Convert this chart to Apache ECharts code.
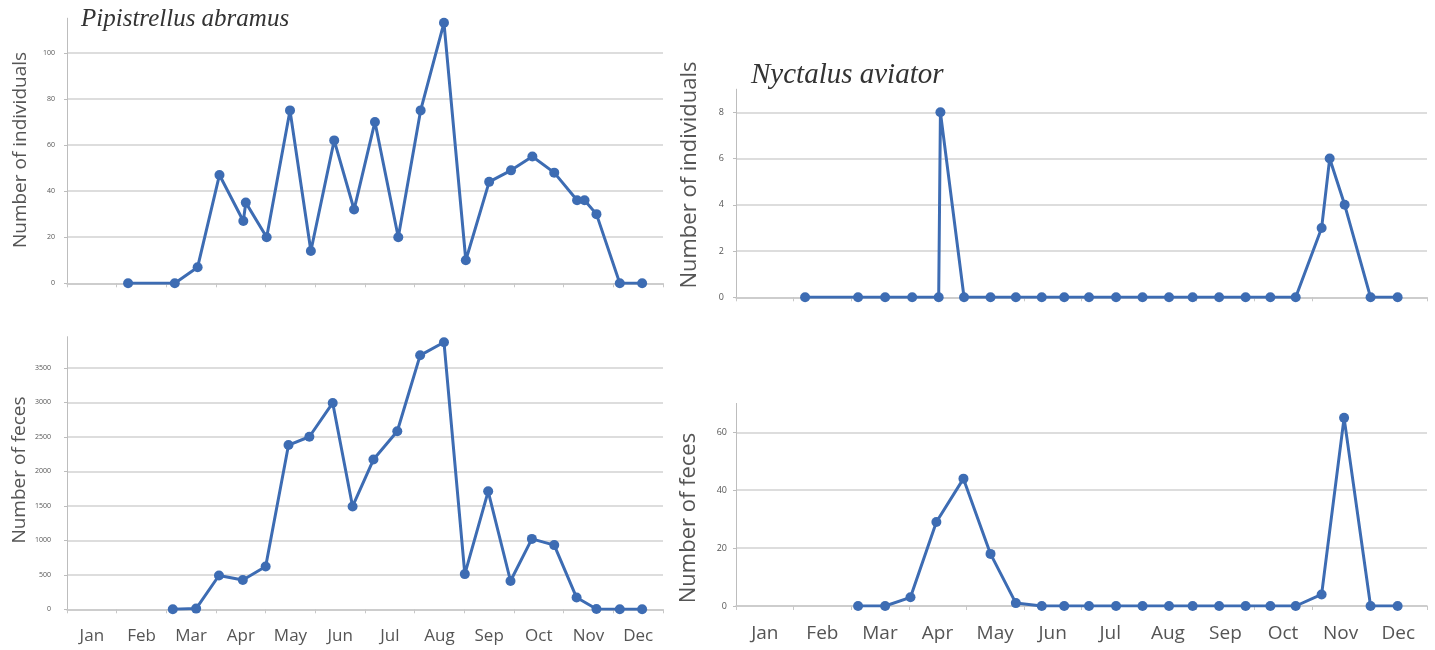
<!DOCTYPE html>
<html>
<head>
<meta charset="utf-8">
<script src="https://cdn.jsdelivr.net/npm/echarts@6.0.0/dist/echarts.min.js"></script>
<style>
html,body{margin:0;padding:0;background:#fff;}
#chart{width:1435px;height:650px;}
</style>
</head>
<body>
<div id="chart"></div>
<script>
// ---- data (x = position in months from 1 Jan) ----
const months = ['Jan','Feb','Mar','Apr','May','Jun','Jul','Aug','Sep','Oct','Nov','Dec'];

const pipIndX = [1.23,2.17,2.63,3.07,3.55,3.60,4.02,4.49,4.91,5.38,5.78,6.20,6.67,7.12,7.59,8.03,8.50,8.94,9.37,9.81,10.27,10.42,10.66,11.13,11.58];
const pipIndY = [0,0,7,47,27,35,20,75,14,62,32,70,20,75,113,10,44,49,55,48,36,36,30,0,0];

const pipFecX = [2.13,2.60,3.06,3.54,4.00,4.46,4.88,5.35,5.75,6.17,6.65,7.11,7.59,8.01,8.48,8.93,9.36,9.81,10.26,10.66,11.13,11.58];
const pipFecY = [0,10,490,425,620,2380,2500,2990,1490,2170,2580,3680,3870,510,1710,410,1020,930,170,5,0,0];

const nycIndX = [1.20,2.12,2.59,3.06,3.52,3.55,3.96,4.42,4.86,5.31,5.70,6.13,6.60,7.06,7.52,7.93,8.39,8.85,9.28,9.72,10.17,10.31,10.57,11.02,11.49];
const nycIndY = [0,0,0,0,0,8,0,0,0,0,0,0,0,0,0,0,0,0,0,0,3,6,4,0,0];

const nycFecX = [2.12,2.59,3.03,3.48,3.95,4.42,4.86,5.31,5.70,6.13,6.60,7.06,7.52,7.93,8.39,8.85,9.28,9.72,10.17,10.56,11.02,11.49];
const nycFecY = [0,0,3,29,44,18,1,0,0,0,0,0,0,0,0,0,0,0,4,65,0,0];

// axis ranges and tick steps
const pipIndAxis = {max:115, interval:20};
const pipFecAxis = {max:3950, interval:500};
const nycIndAxis = {max:9, interval:2};
const nycFecAxis = {max:70, interval:20};

const titles = ['Pipistrellus abramus','Nyctalus aviator'];
const yNames = ['Number of individuals','Number of feces'];

// ---- chart ----
const zip = (xs, ys) => xs.map((x,i)=>[x, ys[i]]);
const blue = '#3d6cb3';
const grid = [
  {left:67, width:596, top:18.2, height:265.1},
  {left:67, width:596, top:336.7, height:272.6},
  {left:736, width:691, top:89.2, height:208.1},
  {left:736, width:691, top:403.4, height:202.6}
];
const showLabels = [false,true,false,true];
const labelSize = [17,17,19,19];
const tickSize = [7,7,9,9];
const tickMargin = [12,16,12,9];
const axes = [pipIndAxis,pipFecAxis,nycIndAxis,nycFecAxis];
const xAxis = [], yAxis = [];
grid.forEach((g,i)=>{
  xAxis.push({
    type:'category', gridIndex:i, data:months, boundaryGap:true, position:'bottom',
    axisLine:{show:true, lineStyle:{color:'#c8c8c8', width:1.5}},
    axisTick:{show:true, length:4, lineStyle:{color:'#c8c8c8'}},
    axisLabel:{show:showLabels[i], color:'#555', fontSize:labelSize[i], fontFamily:'Open Sans', margin:18}
  });
  xAxis.push({type:'value', gridIndex:i, min:0, max:12, show:false});
  yAxis.push({
    type:'value', gridIndex:i, min:0, max:axes[i].max, interval:axes[i].interval,
    axisLine:{show:true, lineStyle:{color:'#bdbdbd', width:1}},
    axisTick:{show:true, length:3, lineStyle:{color:'#bdbdbd'}},
    axisLabel:{color:'#555', fontSize:tickSize[i], fontFamily:'Open Sans', margin:tickMargin[i], showMaxLabel:false,
               formatter:v=>String(v)},
    splitLine:{show:true, showMaxLine:false, lineStyle:{color:'#d2d2d2', width:1.6}}
  });
});
const dataSets = [zip(pipIndX,pipIndY), zip(pipFecX,pipFecY), zip(nycIndX,nycIndY), zip(nycFecX,nycFecY)];
const series = dataSets.map((d,i)=>({
  type:'line', xAxisIndex:2*i+1, yAxisIndex:i, data:d,
  symbol:'circle', symbolSize:10, showSymbol:true,
  itemStyle:{color:blue}, lineStyle:{color:blue, width:3}, animation:false
}));

const chart = echarts.init(document.getElementById('chart'));
chart.setOption({
  animation:false,
  backgroundColor:'#fff',
  title:[
    {text:titles[0], left:81, top:7, padding:0, textStyle:{fontFamily:'Liberation Serif', fontStyle:'italic', fontWeight:'normal', fontSize:25, color:'#333'}},
    {text:titles[1], left:751, top:61, padding:0, textStyle:{fontFamily:'Liberation Serif', fontStyle:'italic', fontWeight:'normal', fontSize:29, color:'#333'}}
  ],
  grid:grid, xAxis:xAxis, yAxis:yAxis, series:series,
  graphic:[
    {type:'text', x:21, y:150, rotation:Math.PI/2, style:{text:yNames[0], fill:'#555', font:'19px "Open Sans"', align:'center', verticalAlign:'middle'}},
    {type:'text', x:20, y:470, rotation:Math.PI/2, style:{text:yNames[1], fill:'#555', font:'19px "Open Sans"', align:'center', verticalAlign:'middle'}},
    {type:'text', x:690, y:175, rotation:Math.PI/2, style:{text:yNames[0], fill:'#555', font:'22px "Open Sans"', align:'center', verticalAlign:'middle'}},
    {type:'text', x:689, y:518, rotation:Math.PI/2, style:{text:yNames[1], fill:'#555', font:'22px "Open Sans"', align:'center', verticalAlign:'middle'}}
  ]
});
</script>
</body>
</html>
